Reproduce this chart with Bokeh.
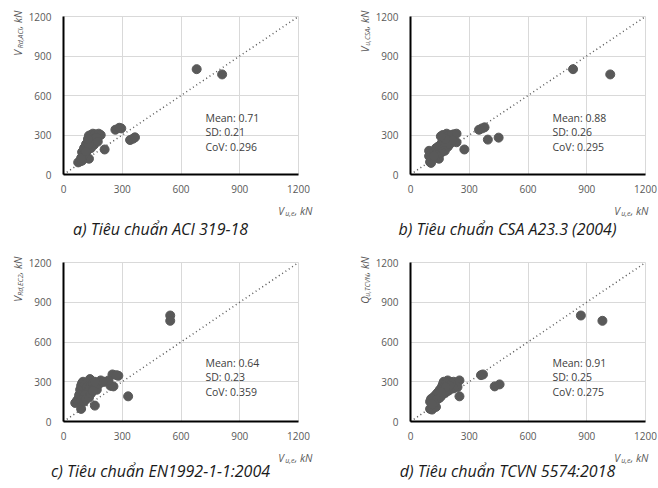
import math
from bokeh.plotting import figure
from bokeh.models import Range1d, Label, FixedTicker
from bokeh.layouts import column, row
from bokeh.embed import file_html
from bokeh.resources import INLINE

# ---------------- data ----------------
ticks = [0, 300, 600, 900, 1200]
tick_labels = ["0", "300", "600", "900", "1200"]
diag = [0, 1200]

a_x = [680, 810, 265, 285, 295, 340, 355, 365, 210, 130, 75, 85, 95,
       100, 95, 110, 105, 120, 115, 125, 130, 135, 130, 140, 150, 160, 175, 180, 190,
       150, 160, 145, 155, 140, 120, 110, 100, 90, 140, 165, 170, 130, 115, 125, 175]
a_y = [800, 760, 340, 355, 350, 262, 272, 282, 190, 120, 92, 100, 105,
       150, 170, 190, 200, 210, 230, 240, 260, 280, 295, 300, 310, 305, 300, 310, 300,
       270, 250, 240, 225, 215, 180, 160, 140, 125, 200, 260, 280, 230, 175, 270, 250]

b_x = [830, 1020, 350, 365, 378, 395, 450, 275, 145, 100, 105, 95, 95,
       110, 120, 130, 140, 150, 160, 165, 170, 165, 175, 185, 190, 200, 210, 220, 235,
       235, 200, 180, 190, 170, 175, 160, 150, 130, 120, 200, 215, 180, 155]
b_y = [800, 760, 340, 350, 358, 265, 280, 190, 120, 95, 88, 180, 140,
       160, 170, 200, 210, 220, 240, 260, 280, 300, 295, 310, 290, 280, 300, 305, 310,
       245, 250, 230, 210, 200, 180, 170, 160, 150, 140, 230, 260, 270, 290]

c_x = [545, 545, 330, 160, 90, 250, 280, 270, 240, 255, 210, 230, 190, 60, 70, 80,
       80, 85, 90, 95, 100, 110, 120, 130, 140, 135, 150, 160, 170, 180, 200, 160,
       120, 110, 100, 90, 105, 115, 130, 140, 150]
c_y = [800, 760, 190, 120, 95, 355, 345, 350, 270, 265, 300, 310, 310, 140, 160, 180,
       200, 240, 270, 290, 300, 280, 260, 250, 300, 320, 290, 260, 240, 280, 300, 300,
       220, 200, 180, 160, 150, 170, 180, 210, 230]

d_x = [870, 980, 360, 370, 430, 455, 250, 100, 110, 130,
       100, 105, 115, 125, 135, 140, 150, 160, 165, 170, 180, 190, 200, 210, 220, 250,
       240, 220, 200, 190, 180, 170, 160, 150, 140, 130, 120, 110, 200, 180, 155]
d_y = [800, 760, 350, 355, 265, 280, 190, 95, 90, 110,
       150, 170, 180, 195, 210, 220, 240, 260, 280, 300, 290, 310, 300, 290, 300, 310,
       260, 250, 240, 230, 220, 210, 200, 180, 170, 160, 140, 130, 270, 260, 225]

stats_a = ["Mean: 0.71", "SD: 0.21", "CoV: 0.296"]
stats_b = ["Mean: 0.88", "SD: 0.26", "CoV: 0.295"]
stats_c = ["Mean: 0.64", "SD: 0.23", "CoV: 0.359"]
stats_d = ["Mean: 0.91", "SD: 0.25", "CoV: 0.275"]

ylab_main = ["V", "V", "V", "Q"]
ylab_sub = ["Rd,ACI", "u,CSA", "Rd,EC2", "u,TCVN"]
xlab_main = "V"
xlab_sub = "u,e"
unit = ", kN"
captions = ["a) Tiêu chuẩn ACI 319-18", "b) Tiêu chuẩn CSA A23.3 (2004)",
            "c) Tiêu chuẩn EN1992-1-1:2004", "d) Tiêu chuẩn TCVN 5574:2018"]

FONT = "Open Sans"
CAP_FONT = "Open Sans"
GRAY = "#595959"


def make_panel(xs, ys, stats, ymain, ysub, caption, W, H, left, top, fw, fh,
               xlab_end, stats_y, cap_y):
    kx = 1200.0 / fw
    ky = 1200.0 / fh
    bottom = H - top - fh
    p = figure(width=W, height=H, output_backend="svg", toolbar_location=None,
               x_range=Range1d(-left * kx, (W - left) * kx),
               y_range=Range1d(-bottom * ky, 1200 + top * ky),
               min_border=0)
    p.outline_line_color = None
    p.background_fill_color = "white"
    p.border_fill_color = "white"

    for ax in (p.xaxis, p.yaxis):
        ax.fixed_location = 0
        ax.bounds = (0, 1200)
        ax.ticker = FixedTicker(ticks=ticks)
        ax.major_label_overrides = {t: s for t, s in zip(ticks, tick_labels)}
        ax.major_tick_in = 0
        ax.major_tick_out = 0
        ax.minor_tick_line_color = None
        ax.axis_line_color = "black"
        ax.axis_line_width = 2
        ax.major_label_text_color = GRAY
        ax.major_label_text_font = FONT
        ax.major_label_text_font_size = "10px"
    p.xaxis.major_label_standoff = 10
    p.yaxis.major_label_standoff = 12
    for g in (p.xgrid, p.ygrid):
        g.ticker = FixedTicker(ticks=ticks)
        g.grid_line_color = "#d9d9d9"
        g.bounds = (0, 1200)
        try:
            g.cross_bounds = (0, 1200)
        except Exception:
            pass
        g.level = "underlay"

    p.line(diag, diag, line_color=GRAY, line_width=1.5, line_dash="1 3")
    p.scatter(xs, ys, size=9, color=GRAY, alpha=1)

    def txt(px, py, text, size, color, style="normal", align="left",
            baseline="middle", angle=0.0, font=FONT):
        p.add_layout(Label(x=px * kx, y=py * ky, text=text, text_font=font,
                           text_font_size=size, text_color=color,
                           text_font_style=style, text_align=align,
                           text_baseline=baseline, angle=angle))

    # statistics box
    for i, s in enumerate(stats):
        txt(0.604 * fw, stats_y - i * 14.5, s, "10.5px", "#404040")

    # x-axis label, right aligned
    xe = fw + xlab_end
    yb = -36
    txt(xe, yb, unit, "10.5px", GRAY, style="italic", align="right", baseline="alphabetic")
    txt(xe - 18, yb - 2.5, xlab_sub, "7px", GRAY, style="italic", align="right", baseline="alphabetic")
    txt(xe - 18 - 10.5, yb, xlab_main, "10.5px", GRAY, style="italic", align="right", baseline="alphabetic")

    # y-axis label, rotated, top aligned
    ang = math.pi / 2
    yt = fh + 6
    xb = -46
    sub_w = 3.6 * len(ysub)
    txt(xb, yt, unit, "10.5px", GRAY, style="italic", align="right", baseline="alphabetic", angle=ang)
    txt(xb + 2.5, yt - 18, ysub, "7px", GRAY, style="italic", align="right", baseline="alphabetic", angle=ang)
    txt(xb, yt - 18 - sub_w, ymain, "10.5px", GRAY, style="italic", align="right", baseline="alphabetic", angle=ang)

    # caption
    txt(97, cap_y, caption, "16px", "#1a1a1a",
        style="italic", align="center", font=CAP_FONT)
    return p


pa = make_panel(a_x, a_y, stats_a, ylab_main[0], ylab_sub[0], captions[0],
                328, 244, 63, 16, 235, 158, 14, 57, -54)
pb = make_panel(b_x, b_y, stats_b, ylab_main[1], ylab_sub[1], captions[1],
                330, 244, 82, 16, 235, 158, 3, 57, -54)
pc = make_panel(c_x, c_y, stats_c, ylab_main[2], ylab_sub[2], captions[2],
                328, 242, 63, 18, 235, 159, 14, 59, -49)
pd = make_panel(d_x, d_y, stats_d, ylab_main[3], ylab_sub[3], captions[3],
                330, 242, 82, 18, 235, 159, 3, 59, -49)

layout = column(row(pa, pb), row(pc, pd))
open("out.html", "w").write(file_html(layout, INLINE))
